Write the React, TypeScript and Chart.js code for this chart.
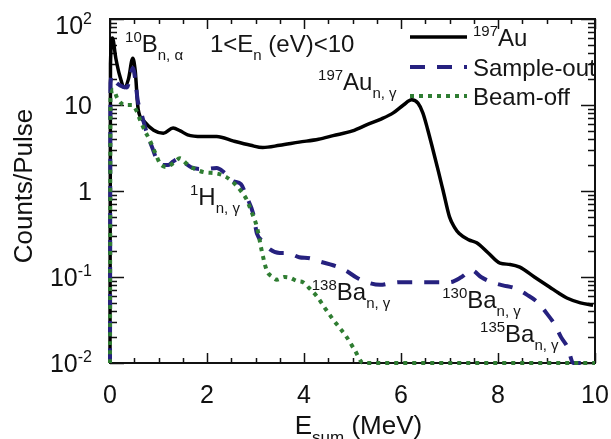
import React, { useEffect, useRef } from "react";
import { Chart, registerables } from "chart.js";

Chart.register(...registerables);

// ---- data (E_sum in MeV, counts per pulse) ----
const auEnergy = [0, 0.01, 0.05, 0.12, 0.2, 0.3, 0.38, 0.47, 0.52, 0.58, 0.7, 0.9, 1.1, 1.3, 1.45, 1.6, 1.9, 2.2, 2.55, 2.9, 3.15, 3.5, 3.9, 4.3, 4.6, 5.0, 5.3, 5.6, 5.84, 6.05, 6.22, 6.35, 6.45, 6.55, 6.66, 6.77, 6.87, 7.0, 7.1, 7.2, 7.4, 7.56, 7.8, 8.04, 8.25, 8.45, 8.75, 9.07, 9.25, 9.42, 9.7, 9.96];
const auCounts = [0.01, 30, 60, 35, 22, 16, 20, 35, 25, 9, 6.5, 5.1, 4.7, 5.4, 5.0, 4.5, 4.3, 4.3, 3.8, 3.4, 3.2, 3.4, 3.7, 4.0, 4.4, 5.0, 5.9, 6.9, 8.1, 10, 11.5, 10.5, 8.1, 5.2, 3.0, 1.7, 1.0, 0.5, 0.38, 0.32, 0.27, 0.25, 0.19, 0.145, 0.14, 0.13, 0.1, 0.076, 0.065, 0.057, 0.05, 0.047];

const sampleOutEnergy = [0, 0.01, 0.05, 0.1, 0.2, 0.35, 0.42, 0.47, 0.52, 0.57, 0.66, 0.76, 0.87, 0.97, 1.1, 1.2, 1.3, 1.44, 1.55, 1.71, 1.95, 2.2, 2.35, 2.54, 2.7, 2.82, 2.95, 3.03, 3.15, 3.3, 3.5, 3.65, 3.9, 4.12, 4.35, 4.6, 4.85, 5.09, 5.35, 5.57, 5.8, 5.98, 6.45, 7.0, 7.25, 7.46, 7.65, 7.87, 8.1, 8.35, 8.6, 8.83, 9.0, 9.17, 9.3, 9.44, 9.55, 10];
const sampleOutCounts = [0.01, 18, 22, 19, 17, 16, 22, 27, 20, 11.5, 7.5, 4.7, 3.2, 2.3, 2.0, 2.0, 2.2, 2.4, 2.1, 1.85, 1.8, 1.85, 1.65, 1.3, 1.2, 0.85, 0.55, 0.32, 0.26, 0.21, 0.19, 0.19, 0.17, 0.165, 0.15, 0.137, 0.12, 0.098, 0.085, 0.081, 0.085, 0.087, 0.087, 0.087, 0.1, 0.12, 0.1, 0.087, 0.08, 0.074, 0.062, 0.05, 0.038, 0.028, 0.02, 0.015, 0.01, 0.01];

const beamOffEnergy = [0, 0.01, 0.07, 0.15, 0.3, 0.45, 0.55, 0.62, 0.72, 0.82, 0.93, 1.03, 1.17, 1.3, 1.44, 1.57, 1.71, 1.95, 2.2, 2.4, 2.54, 2.7, 2.82, 2.93, 3.03, 3.13, 3.23, 3.35, 3.44, 3.6, 3.71, 3.85, 3.98, 4.1, 4.27, 4.45, 4.6, 4.75, 4.88, 5.05, 5.22, 10];
const beamOffCounts = [0.01, 12, 15, 12, 10, 10, 8.5, 6.7, 5, 3.9, 2.8, 2.1, 1.9, 2.1, 2.4, 2.1, 1.85, 1.65, 1.6, 1.45, 1.26, 1.0, 0.79, 0.55, 0.38, 0.2, 0.12, 0.1, 0.093, 0.1, 0.098, 0.09, 0.087, 0.075, 0.059, 0.042, 0.032, 0.025, 0.02, 0.014, 0.01, 0.01];

const xTickValues = [0, 2, 4, 6, 8, 10];
const xTickLabels = ["0", "2", "4", "6", "8", "10"];
const yTickValues = [100, 10, 1, 0.1, 0.01];
const yTickBase = ["10", "10", "1", "10", "10"];
const yTickExp = ["2", "", "", "-1", "-2"];
const seriesLabels = ["Au", "Sample-out", "Beam-off"];
const seriesLabelSup = ["197", "", ""];

const FONT = '"Liberation Sans", Arial, Helvetica, sans-serif';
const NAVY = "#26217f";
const GREEN = "#2f7d32";

type Seg = { t: string; k: "m" | "sup" | "sub" };

function fontFor(k: string, size: number) {
  if (k === "m") return `${size}px ${FONT}`;
  return `${Math.round(size * 0.64)}px ${FONT}`;
}

function drawRich(ctx: CanvasRenderingContext2D, x: number, y: number, segs: Seg[], size: number) {
  let cx = x;
  ctx.textAlign = "left";
  ctx.textBaseline = "alphabetic";
  for (const s of segs) {
    ctx.font = fontFor(s.k, size);
    const dy = s.k === "sup" ? -size * 0.42 : s.k === "sub" ? size * 0.33 : 0;
    ctx.fillText(s.t, cx, y + dy);
    cx += ctx.measureText(s.t).width;
  }
  return cx - x;
}

function richWidth(ctx: CanvasRenderingContext2D, segs: Seg[], size: number) {
  let w = 0;
  for (const s of segs) {
    ctx.font = fontFor(s.k, size);
    w += ctx.measureText(s.t).width;
  }
  return w;
}

// annotations: anchored in data coordinates (E, counts) = left edge / baseline
const annotations: { e: number; v: number; segs: Seg[] }[] = [
  { e: 0.31, v: 41, segs: [{ t: "10", k: "sup" }, { t: "B", k: "m" }, { t: "n, α", k: "sub" }] },
  { e: 2.06, v: 41, segs: [{ t: "1<E", k: "m" }, { t: "n", k: "sub" }, { t: " (eV)<10", k: "m" }] },
  { e: 4.29, v: 14.9, segs: [{ t: "197", k: "sup" }, { t: "Au", k: "m" }, { t: "n, γ", k: "sub" }] },
  { e: 1.65, v: 0.687, segs: [{ t: "1", k: "sup" }, { t: "H", k: "m" }, { t: "n, γ", k: "sub" }] },
  { e: 4.16, v: 0.054, segs: [{ t: "138", k: "sup" }, { t: "Ba", k: "m" }, { t: "n, γ", k: "sub" }] },
  { e: 6.85, v: 0.0437, segs: [{ t: "130", k: "sup" }, { t: "Ba", k: "m" }, { t: "n, γ", k: "sub" }] },
  { e: 7.63, v: 0.0175, segs: [{ t: "135", k: "sup" }, { t: "Ba", k: "m" }, { t: "n, γ", k: "sub" }] },
];

const styles = [
  { color: "#000000", width: 3.5, dash: [] as number[] },
  { color: NAVY, width: 4, dash: [15, 12] },
  { color: GREEN, width: 4, dash: [4, 5] },
];

const framePlugin = {
  id: "frame",
  beforeDatasetsDraw(chart: any) {
    const { ctx, chartArea: a, scales } = chart;
    const xs = scales.x, ys = scales.y;
    ctx.save();
    ctx.strokeStyle = "#111";
    ctx.lineWidth = 2;
    ctx.strokeRect(a.left, a.top, a.right - a.left, a.bottom - a.top);
    ctx.lineWidth = 1.5;
    ctx.beginPath();
    for (let v = 0; v <= 10.001; v += 0.5) {
      const px = Math.round(xs.getPixelForValue(v)) + 0.5;
      const len = Math.abs(v % 2) < 1e-6 ? 10 : 5;
      ctx.moveTo(px, a.bottom);
      ctx.lineTo(px, a.bottom - len);
      ctx.moveTo(px, a.top);
      ctx.lineTo(px, a.top + len);
    }
    for (let d = -2; d <= 1; d++) {
      for (let m = 1; m <= 10; m++) {
        const v = m * Math.pow(10, d);
        const py = Math.round(ys.getPixelForValue(v)) + 0.5;
        const len = m === 1 || m === 10 ? 14 : 7;
        ctx.moveTo(a.left, py);
        ctx.lineTo(a.left + len, py);
        ctx.moveTo(a.right, py);
        ctx.lineTo(a.right - len, py);
      }
    }
    ctx.stroke();
    ctx.restore();
  },
  afterDraw(chart: any) {
    const { ctx, chartArea: a, scales } = chart;
    const xs = scales.x, ys = scales.y;
    ctx.save();
    ctx.fillStyle = "#111";
    // x tick labels
    ctx.font = `25px ${FONT}`;
    ctx.textAlign = "center";
    ctx.textBaseline = "alphabetic";
    xTickValues.forEach((v, i) => {
      ctx.fillText(xTickLabels[i], xs.getPixelForValue(v), a.bottom + 40);
    });
    // y tick labels
    yTickValues.forEach((v, i) => {
      const segs: Seg[] = [{ t: yTickBase[i], k: "m" }];
      if (yTickExp[i]) segs.push({ t: yTickExp[i], k: "sup" });
      const w = richWidth(ctx, segs, 25);
      const py = ys.getPixelForValue(v);
      const base = Math.max(py + 9, a.top + 15);
      drawRich(ctx, a.left - 18 - w, base, segs, 25);
    });
    // axis titles
    ctx.save();
    ctx.translate(32, (a.top + a.bottom) / 2 - 5);
    ctx.rotate(-Math.PI / 2);
    ctx.font = `26px ${FONT}`;
    ctx.textAlign = "center";
    ctx.fillText("Counts/Pulse", 0, 0);
    ctx.restore();
    const xt: Seg[] = [{ t: "E", k: "m" }, { t: "sum", k: "sub" }, { t: " (MeV)", k: "m" }];
    const xw = richWidth(ctx, xt, 26);
    drawRich(ctx, (a.left + a.right) / 2 + 6 - xw / 2, a.bottom + 71, xt, 26);
    // annotations
    ctx.fillStyle = "#151515";
    annotations.forEach((an) => {
      drawRich(ctx, xs.getPixelForValue(an.e), ys.getPixelForValue(an.v), an.segs, 24);
    });
    // legend
    const rows = [a.top + 18, a.top + 48, a.top + 77];
    rows.forEach((ry, i) => {
      const st = styles[i];
      ctx.save();
      ctx.strokeStyle = st.color;
      ctx.lineWidth = st.width;
      ctx.setLineDash(st.dash);
      ctx.beginPath();
      ctx.moveTo(a.right - 185, ry);
      ctx.lineTo(a.right - 128, ry);
      ctx.stroke();
      ctx.restore();
      const segs: Seg[] = [];
      if (seriesLabelSup[i]) segs.push({ t: seriesLabelSup[i], k: "sup" });
      segs.push({ t: seriesLabels[i], k: "m" });
      ctx.fillStyle = "#151515";
      drawRich(ctx, a.right - 122, ry + 9, segs, 24);
    });
    ctx.restore();
  },
};

function toPoints(xs: number[], ys: number[]) {
  return xs.map((x, i) => ({ x, y: ys[i] }));
}

export default function App() {
  const ref = useRef<HTMLCanvasElement | null>(null);
  useEffect(() => {
    if (!ref.current) return;
    const series = [
      toPoints(auEnergy, auCounts),
      toPoints(sampleOutEnergy, sampleOutCounts),
      toPoints(beamOffEnergy, beamOffCounts),
    ];
    const chart = new Chart(ref.current, {
      type: "line",
      data: {
        datasets: series.map((d, i) => ({
          label: seriesLabels[i],
          data: d,
          borderColor: styles[i].color,
          borderWidth: styles[i].width,
          borderDash: styles[i].dash,
          pointRadius: 0,
          fill: false,
          tension: 0.2,
          cubicInterpolationMode: "monotone" as const,
          clip: 4,
          order: 3 - i,
        })),
      },
      options: {
        responsive: false,
        animation: false,
        devicePixelRatio: 1,
        layout: { padding: { left: 110, right: 16, top: 19, bottom: 76 } },
        plugins: { legend: { display: false }, tooltip: { enabled: false } },
        scales: {
          x: { type: "linear", min: 0, max: 10, display: false },
          y: { type: "logarithmic", min: 0.01, max: 100, display: false },
        },
      },
      plugins: [framePlugin],
    });
    return () => chart.destroy();
  }, []);
  return (
    <div style={{ position: "fixed", left: 0, top: 0, width: 611, height: 439, background: "#fff" }}>
      <canvas ref={ref} width={611} height={439} style={{ display: "block" }} />
    </div>
  );
}
